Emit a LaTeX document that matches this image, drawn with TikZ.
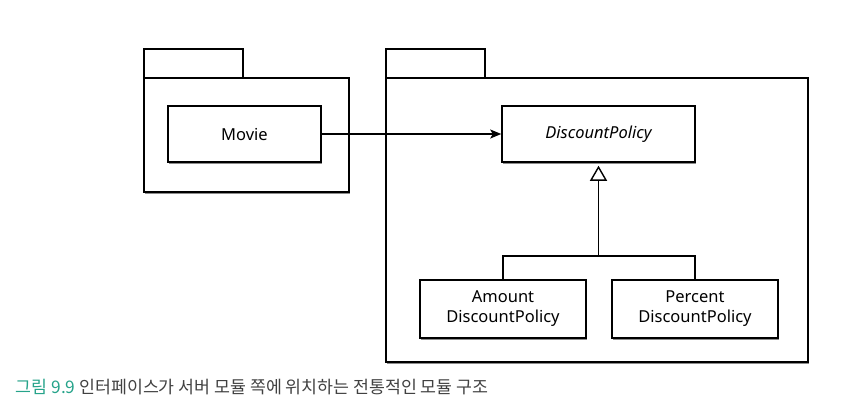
\documentclass[tikz,border=0pt]{standalone}
\usepackage{fontspec}
\setmainfont{Noto Sans}
\newfontfamily\krfont{Noto Sans CJK KR}
\usetikzlibrary{arrows.meta,shadows}
\definecolor{captiongreen}{RGB}{38,163,138}
\definecolor{captiongray}{RGB}{65,65,65}

\begin{document}
\begin{tikzpicture}[
                x=1pt,
                y=-1pt,
                line width=1.5pt,
                font=\fontsize{16.5}{20}\selectfont,
                boxshadow/.style={drop shadow={shadow xshift=1.2pt, shadow yshift=-1.5pt, opacity=0.45, fill=black}},
                classbox/.style={draw, fill=white, boxshadow, align=center, inner sep=0pt},
                pkgpart/.style={draw, fill=white, boxshadow}
            ]
            \useasboundingbox (0,0) rectangle (862,413);

            % packages
            \draw[pkgpart] (144,49) rectangle (243,78);
            \draw[pkgpart] (144,78) rectangle (349,192);
            \draw[pkgpart] (386,49) rectangle (485,78);
            \draw[pkgpart] (386,78) rectangle (808,362);

            % classes
            \node[classbox, minimum width=153pt, minimum height=56pt] (movie) at (244.5,134) {Movie};
            \node[classbox, minimum width=193pt, minimum height=56pt] (policy) at (598.5,134) {\itshape DiscountPolicy};
            \node[classbox, minimum width=166pt, minimum height=58pt] (amount) at (503,309) {Amount\\DiscountPolicy};
            \node[classbox, minimum width=166pt, minimum height=58pt] (percent) at (695,309) {Percent\\DiscountPolicy};

            \coordinate (split) at (598.5,256);

            \draw[-{Stealth[length=11pt, width=9pt, inset=2.5pt]}] (movie.east) -- (policy.west);
            \draw[-{Triangle[open, length=15pt, width=17pt, line width=1.4pt]}, shorten >=3pt] (split) -- (policy.south);
            \draw (amount.north) |- (split) -| (percent.north);

            \node[anchor=west, inner sep=0pt, font=\krfont\fontsize{17.3}{20}\selectfont] (caption) at (15,387)
                {\textcolor{captiongreen}{그림 9.9} \textcolor{captiongray}{인터페이스가 서버 모듈 쪽에 위치하는 전통적인 모듈 구조}};
\end{tikzpicture}
\end{document}
